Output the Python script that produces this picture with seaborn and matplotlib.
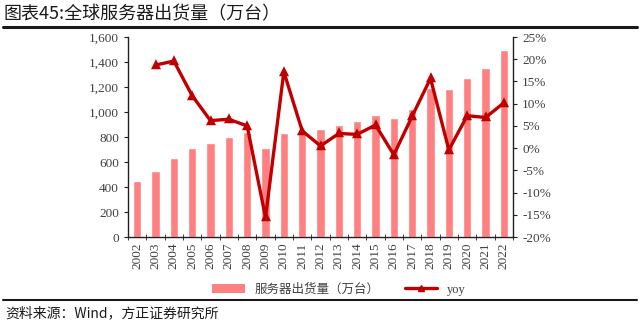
import matplotlib
matplotlib.use("Agg")
import matplotlib.pyplot as plt
import matplotlib.ticker as mticker
from matplotlib.lines import Line2D
from matplotlib.patches import Patch
import seaborn as sns
import pandas as pd
import numpy as np

years = [str(y) for y in range(2002, 2023)]
shipments = [445, 530, 630, 710, 755, 800, 840, 710, 835, 845, 866, 898, 925,
             973, 955, 1027, 1190, 1182, 1272, 1355, 1499]
yoy_years = years[1:]
yoy = [18.7, 19.6, 11.8, 6.2, 6.5, 5.0, -15.6, 17.2, 3.9, 0.5, 3.3, 3.1,
       5.2, -1.5, 7.2, 15.7, -0.4, 7.3, 6.9, 10.2]

title = "图表45:全球服务器出货量（万台）"
bar_label = "服务器出货量（万台）"
line_label = "yoy"
source = "资料来源：Wind，方正证券研究所"

sns.set_style("white")
serif = ["Liberation Serif", "DejaVu Serif", "Noto Sans CJK SC"]
cjk = ["Noto Sans CJK SC", "DejaVu Sans"]
plt.rcParams['font.family'] = serif

bar_color = "#FF8080"
line_color = "#C00000"
tick_color = "#404040"

fig = plt.figure(figsize=(6.4, 3.28), dpi=100)
ax = fig.add_axes([0.2, 0.2774, 0.6016, 0.6096])

df_bar = pd.DataFrame({"year": years, "val": shipments})
sns.barplot(data=df_bar, x="year", y="val", order=years, ax=ax,
            color=bar_color, width=0.47, saturation=1)
ax.set_ylim(0, 1600)
ax.set_xlim(-0.5, len(years) - 0.5)
ax.yaxis.set_major_locator(mticker.MultipleLocator(200))
ax.yaxis.set_major_formatter(mticker.FuncFormatter(lambda v, p: f"{int(v):,}"))
ax.set_xlabel("")
ax.set_ylabel("")

ax2 = ax.twinx()
df_line = pd.DataFrame({"year": yoy_years, "yoy": yoy})
sns.pointplot(data=df_line, x="year", y="yoy", order=years, ax=ax2,
              color=line_color, markers="^", markersize=4.2, linewidth=2.4)
ax2.set_ylim(-20, 25)
ax2.set_xlim(-0.5, len(years) - 0.5)
ax2.yaxis.set_major_locator(mticker.MultipleLocator(5))
ax2.yaxis.set_major_formatter(mticker.FuncFormatter(lambda v, p: f"{int(round(v))}%"))
ax2.set_xlabel("")
ax2.set_ylabel("")

for a in (ax, ax2):
    a.spines["top"].set_visible(False)
    for s in ("left", "right", "bottom"):
        a.spines[s].set_color("#202020")
        a.spines[s].set_linewidth(1.0)
ax.spines["right"].set_visible(False)
ax2.spines["left"].set_visible(False)
ax2.spines["bottom"].set_visible(False)

ax.tick_params(axis="y", direction="out", length=3, color="#202020",
               labelsize=9.5, labelcolor=tick_color, left=True)
ax2.tick_params(axis="y", direction="out", length=3, color="#202020",
                labelsize=9.5, labelcolor=tick_color, right=True)

ax.set_xticks(range(len(years)))
ax.set_xticklabels(years, rotation=90, fontsize=9.5, color=tick_color, family=serif)
ax.tick_params(axis="x", which="major", length=0, pad=4)
ax.set_xticks(np.arange(-0.5, len(years), 1), minor=True)
ax.tick_params(axis="x", which="minor", direction="inout", length=5, color="#202020", bottom=True)

# title and rules
fig.text(0.006, 0.955, title, fontsize=13, color="#1a1a1a", va="center", ha="left",
         family=cjk)
fig.add_artist(Line2D([0.005, 0.995], [0.918, 0.918], color="#1a1a1a", lw=2.2))
fig.add_artist(Line2D([0.005, 0.995], [0.085, 0.085], color="#1a1a1a", lw=1.5))
fig.text(0.008, 0.045, source, fontsize=10, color="#1a1a1a", va="center", ha="left",
         family=cjk, style="italic")

handles = [Patch(facecolor=bar_color, edgecolor="none"),
           Line2D([0], [0], color=line_color, lw=2.4, marker="^", markersize=5)]
leg = fig.legend(handles, [bar_label, line_label], loc="center", bbox_to_anchor=(0.53, 0.118),
                 ncol=2, frameon=False, handlelength=2.6, columnspacing=2.0,
                 labelcolor=tick_color, prop={"family": cjk, "size": 9})
leg.get_texts()[1].set_fontfamily(serif)

fig.savefig("out.png", dpi=100)
